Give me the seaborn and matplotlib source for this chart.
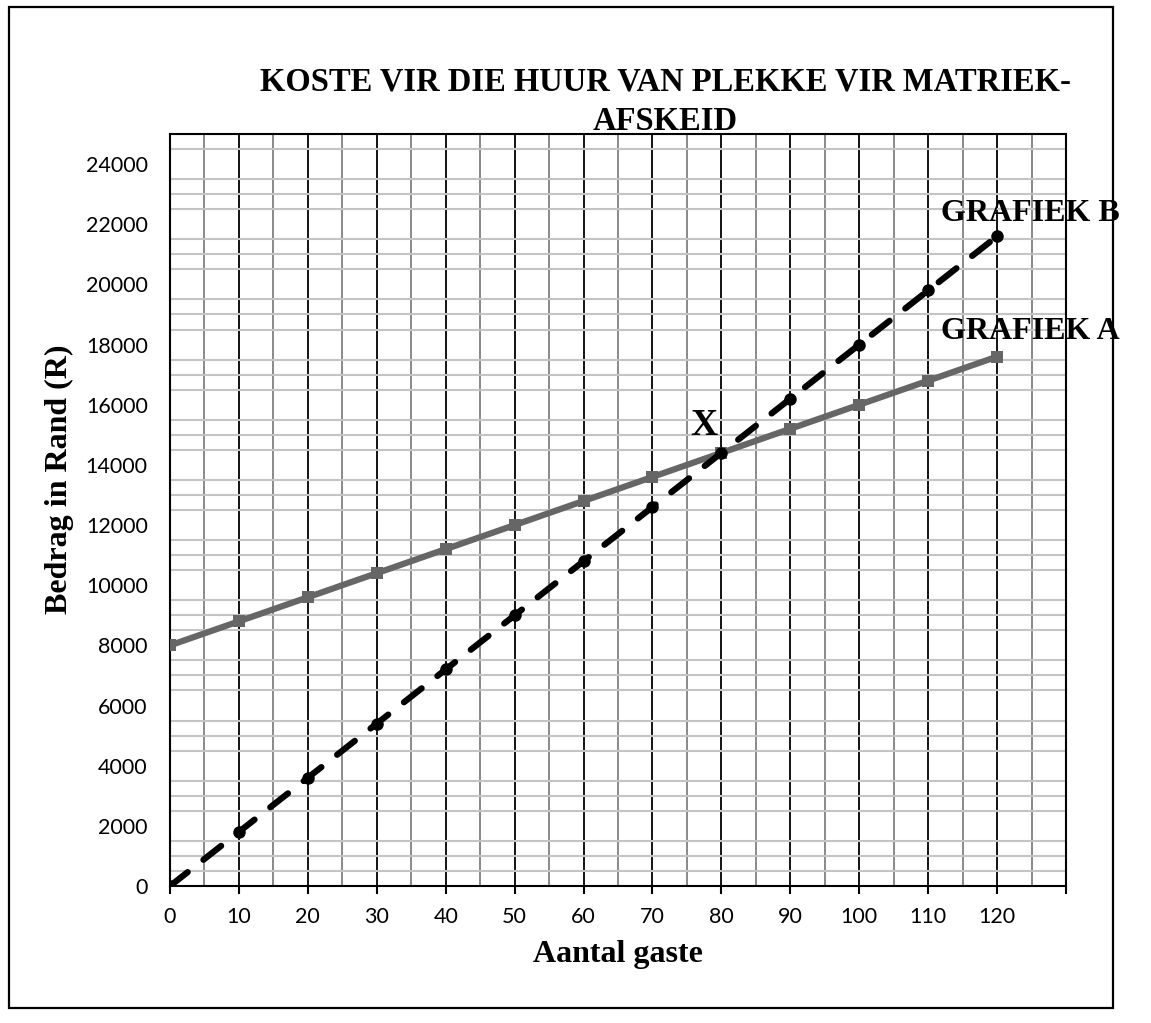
import numpy as np
import pandas as pd
import matplotlib
matplotlib.use("Agg")
import matplotlib.pyplot as plt
import seaborn as sns
from matplotlib.patches import Rectangle
from matplotlib.ticker import MultipleLocator

guests = [0, 10, 20, 30, 40, 50, 60, 70, 80, 90, 100, 110, 120]
cost_a = [8000, 8800, 9600, 10400, 11200, 12000, 12800, 13600, 14400, 15200, 16000, 16800, 17600]
cost_b = [0, 1800, 3600, 5400, 7200, 9000, 10800, 12600, 14400, 16200, 18000, 19800, 21600]
x_ticks = [0, 10, 20, 30, 40, 50, 60, 70, 80, 90, 100, 110, 120, 130]
x_labels = ["0", "10", "20", "30", "40", "50", "60", "70", "80", "90", "100", "110", "120", ""]
y_ticks = [0, 2000, 4000, 6000, 8000, 10000, 12000, 14000, 16000, 18000, 20000, 22000, 24000]

df = pd.DataFrame({"Gaste": guests, "A": cost_a, "B": cost_b})

sns.set_style("white")
plt.rcParams["font.family"] = ["Lato", "DejaVu Sans"]
plt.rcParams["text.color"] = "black"
plt.rcParams["xtick.color"] = "black"
plt.rcParams["ytick.color"] = "black"
serif = ["Liberation Serif", "DejaVu Serif"]

fig = plt.figure(figsize=(11.51, 10.23), dpi=100)
ax = fig.add_axes([0.1477, 0.1339, 0.9262 - 0.1477, 0.869 - 0.1339])

sns.lineplot(data=df, x="Gaste", y="A", ax=ax, color="#666666", linewidth=4.5,
             marker="s", markersize=8, markeredgecolor="#666666", markeredgewidth=0, zorder=3)
sns.lineplot(data=df, x="Gaste", y="B", ax=ax, color="black", linewidth=4.5,
             marker="o", markersize=9, markeredgecolor="black", markeredgewidth=0, zorder=4)
ax.lines[-1].set_dashes((3.6, 3.2))
ax.lines[-1].set_dash_capstyle("round")

ax.set_xlim(0, 130)
ax.set_ylim(0, 25000)
ax.set_xticks(x_ticks)
ax.set_xticklabels(x_labels)
ax.set_yticks(y_ticks)
ax.xaxis.set_minor_locator(MultipleLocator(5))
ax.yaxis.set_minor_locator(MultipleLocator(500))

ax.grid(True, which="major", axis="x", color="black", linewidth=1.3)
ax.grid(True, which="minor", axis="x", color="#808080", linewidth=1.3)
ax.grid(True, which="minor", axis="y", color="#c4c4c4", linewidth=1.5)
ax.set_axisbelow(True)

ax.tick_params(axis="x", which="major", length=6, width=1.5, color="black",
               direction="out", pad=9, labelsize=15.5, bottom=True, labelcolor="black")
ax.tick_params(axis="x", which="minor", length=0)
ax.tick_params(axis="y", which="both", length=0, pad=16, labelsize=15.5, labelcolor="black")
for s in ax.spines.values():
    s.set_color("black")
    s.set_linewidth(1.5)
ax.set_xlabel("")
ax.set_ylabel("")

fig.text(0.578, 0.9005, "KOSTE VIR DIE HUUR VAN PLEKKE VIR MATRIEK-\nAFSKEID",
         ha="center", va="center", multialignment="center", linespacing=1.38,
         fontsize=23.5, fontweight="bold", family=serif, color="black")
fig.text(0.0513, 0.532, "Bedrag in Rand (R)", rotation=90, ha="center", va="center",
         fontsize=23, fontweight="bold", family=serif, color="black")
fig.text(0.537, 0.0665, "Aantal gaste", ha="center", va="center",
         fontsize=23, fontweight="bold", family=serif, color="black")

ax.text(111.9, 22374, "GRAFIEK B", ha="left", va="center", fontsize=23,
        fontweight="bold", family=serif, clip_on=False, zorder=6, color="black")
ax.text(111.9, 18451, "GRAFIEK A", ha="left", va="center", fontsize=23,
        fontweight="bold", family=serif, clip_on=False, zorder=6, color="black")
ax.text(77.4, 15326, "X", ha="center", va="center", fontsize=27,
        fontweight="bold", family=serif, zorder=6, color="black")

fig.patches.append(Rectangle((0.0078, 0.0147), 0.9592, 0.9785, transform=fig.transFigure,
                             fill=False, edgecolor="black", linewidth=1.6))

fig.savefig("out.png", dpi=100)
